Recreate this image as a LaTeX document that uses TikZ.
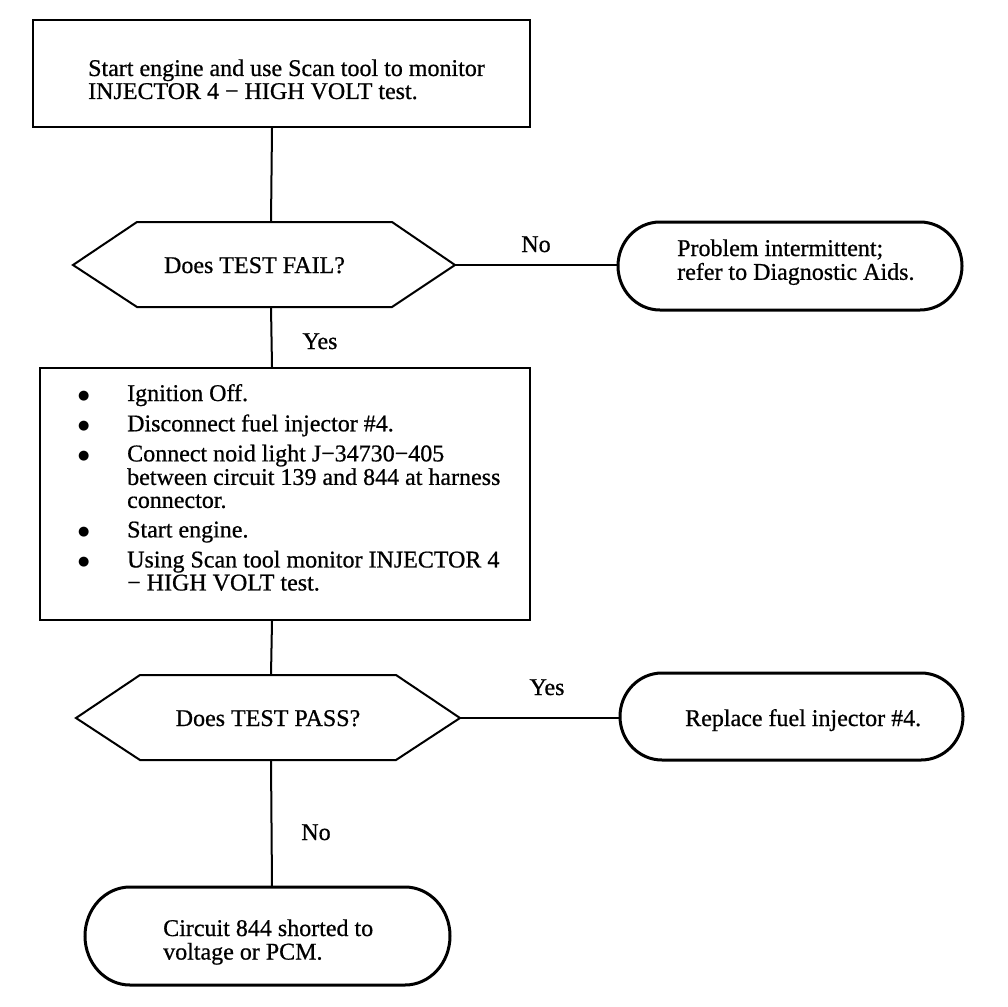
\documentclass[tikz,border=0pt]{standalone}
\usepackage{fontspec}
\setmainfont{Liberation Serif}[FakeBold=0.7]
\newfontfamily\bulletfont{DejaVu Sans}
\newcommand{\blt}{\makebox[49pt][l]{\raisebox{1.5pt}{\fontsize{13}{13}\bulletfont ●}}}
\begin{document}
\begin{tikzpicture}[x=1pt,y=1pt,
  txt/.style={font=\fontsize{24}{23}\selectfont, inner sep=0pt},
  boxst/.style={draw, line width=2pt, inner sep=0pt},
  hexline/.style={draw, line width=2pt, line join=miter},
  termline/.style={draw, line width=3pt},
  conn/.style={draw, line width=2pt}]
\useasboundingbox (0,0) rectangle (1008,-1006);

% spine
\coordinate (spine) at (272,0);

% top box
\node[boxst, anchor=north west, minimum width=497pt, minimum height=107pt] (b1) at (32,-19) {};
\node[txt, anchor=base west] (b1t) at (88,-76) {\begin{tabular}[t]{@{}l@{}}Start engine and use Scan tool to monitor\\ INJECTOR 4 − HIGH VOLT test.\end{tabular}};

% decision 1
\coordinate (d1w) at (73,-265);
\coordinate (d1e) at (455,-265);
\coordinate (d1t) at (271,-222);
\coordinate (d1b) at (271,-307);
\draw[hexline] (d1w) -- (137,-222) -- (392,-222) -- (d1e) -- (392,-307) -- (137,-307) -- cycle;
\node[txt, anchor=base] (d1) at (254.5,-273) {Does TEST FAIL?};

% terminal 1
\draw[termline] (660,-222) -- (920,-222) arc[start angle=90,end angle=-90,x radius=42pt,y radius=44pt] -- (660,-310) arc[start angle=270,end angle=90,x radius=42pt,y radius=44pt] -- cycle;
\coordinate (t1w) at (618,-265);
\node[txt, anchor=base west] (t1) at (677,-256) {\begin{tabular}[t]{@{}l@{}}Problem intermittent;\\ refer to Diagnostic Aids.\end{tabular}};

% box 2
\node[boxst, anchor=north west, minimum width=490pt, minimum height=252pt] (b2) at (39,-367) {};
\node[txt, anchor=base west] (b2t) at (78,-401) {\begin{tabular}[t]{@{}l@{}l@{}}
\blt & Ignition Off.\\[6.5pt]
\blt & Disconnect fuel injector \#4.\\[6.5pt]
\blt & Connect noid light J−34730−405\\
 & between circuit 139 and 844 at harness\\
 & connector.\\[6.5pt]
\blt & Start engine.\\[6.5pt]
\blt & Using Scan tool monitor INJECTOR 4\\
 & − HIGH VOLT test.
\end{tabular}};

% decision 2
\coordinate (d2w) at (76,-718);
\coordinate (d2e) at (460,-718);
\coordinate (d2t) at (271,-675);
\coordinate (d2b) at (271,-760);
\draw[hexline] (d2w) -- (140,-675) -- (396,-675) -- (d2e) -- (396,-760) -- (140,-760) -- cycle;
\node[txt, anchor=base] (d2) at (268,-726) {Does TEST PASS?};

% terminal 2
\draw[termline] (662,-673) -- (921,-673) arc[start angle=90,end angle=-90,x radius=42pt,y radius=43.5pt] -- (662,-760) arc[start angle=270,end angle=90,x radius=42pt,y radius=43.5pt] -- cycle;
\coordinate (t2w) at (620,-718);
\node[txt, anchor=base west] (t2) at (685,-726) {Replace fuel injector \#4.};

% terminal 3
\draw[termline] (130,-887) -- (405,-887) arc[start angle=90,end angle=-90,x radius=45pt,y radius=49pt] -- (130,-985) arc[start angle=270,end angle=90,x radius=45pt,y radius=49pt] -- cycle;
\coordinate (t3n) at (272,-887);
\node[txt, anchor=base west] (t3) at (163,-936) {\begin{tabular}[t]{@{}l@{}}Circuit 844 shorted to\\ voltage or PCM.\end{tabular}};

% connectors
\draw[conn] (b1.south -| spine) -- (d1t);
\draw[conn] (d1b) -- (b2.north -| spine);
\draw[conn] (b2.south -| spine) -- (d2t);
\draw[conn] (d2b) -- (t3n);
\draw[conn] (d1e) -- (t1w);
\draw[conn] (d2e) -- (t2w);

% labels
\node[txt, anchor=base] (l1) at (536,-252) {No};
\node[txt, anchor=base] (l2) at (320,-349) {Yes};
\node[txt, anchor=base] (l3) at (547,-695) {Yes};
\node[txt, anchor=base] (l4) at (316,-840) {No};
\end{tikzpicture}
\end{document}
